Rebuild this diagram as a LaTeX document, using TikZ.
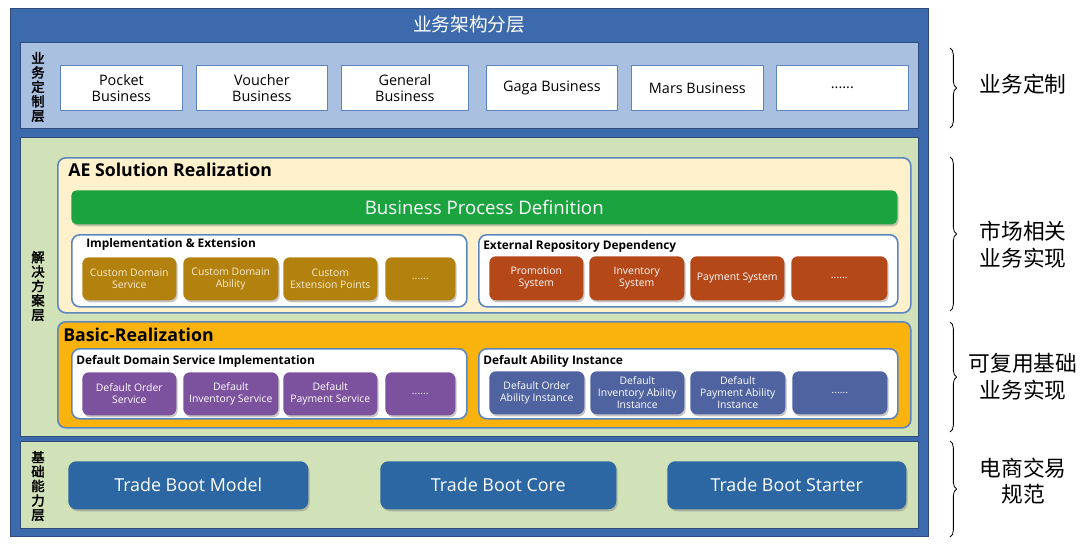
\documentclass[tikz,border=0pt]{standalone}
\usepackage{fontspec}
\setmainfont{Open Sans}
\newfontfamily\cjk{Noto Sans CJK SC}
\newfontfamily\cjkbold[FakeBold=2.5]{Noto Sans CJK SC}
\usetikzlibrary{shadows,decorations.pathreplacing}
\definecolor{outerblue}{HTML}{3D6AAD}
\definecolor{outerline}{HTML}{2E4C7A}
\definecolor{lay1}{HTML}{A9C0E1}
\definecolor{laygreen}{HTML}{D1E2B8}
\definecolor{cream}{HTML}{FEF1CB}
\definecolor{grpline}{HTML}{5B86BF}
\definecolor{bpgreen}{HTML}{1AA33F}
\definecolor{brownit}{HTML}{B3820E}
\definecolor{rustit}{HTML}{B54818}
\definecolor{orangeb}{HTML}{F9B30C}
\definecolor{purpleit}{HTML}{7C519D}
\definecolor{slateit}{HTML}{4E63A0}
\definecolor{tradeb}{HTML}{2C66A3}
\definecolor{itemtxt}{HTML}{F6EBD2}
\tikzset{
  x=0.75pt, y=-0.75pt,
  outerbox/.style={fill=outerblue, draw=outerline, line width=1pt},
  layerbox/.style={draw=outerline, line width=1pt},
  bizbox/.style={fill=white, draw=grpline, line width=0.6pt, font=\fontsize{10.8}{12}\selectfont, align=center},
  groupbox/.style={draw=grpline, line width=1.2pt, rounded corners=6pt},
  whitegrp/.style={groupbox, fill=white},
  item/.style={rounded corners=5pt, text=white, align=center, font=\fontsize{7.8}{8.8}\selectfont,
     drop shadow={shadow xshift=1pt, shadow yshift=-1.5pt, opacity=0.45}},
  vlabel/.style={font=\cjkbold\fontsize{10}{10.8}\selectfont, align=center, inner sep=0pt},
  grptitle/.style={font=\bfseries\fontsize{8.9}{10}\selectfont, anchor=west, inner sep=0pt},
  bigtitle/.style={font=\bfseries\fontsize{13.3}{15}\selectfont, anchor=west, inner sep=0pt},
  tradebox/.style={fill=tradeb, rounded corners=6pt, text=white, font=\fontsize{13.4}{15}\selectfont,
     drop shadow={shadow xshift=1pt, shadow yshift=-1.5pt, opacity=0.45}},
  righttxt/.style={font=\cjk\fontsize{16.3}{20}\selectfont, align=center},
  bracel/.style={decorate, decoration={brace, amplitude=5pt}, line width=0.6pt},
}
\newcommand\pbox[7]{\node[#6, anchor=north west, minimum width={(#4-#2)*0.75pt}, minimum height={(#5-#3)*0.75pt}, inner sep=0pt] (#1) at (#2,#3) {#7};}
\begin{document}
\begin{tikzpicture}
\useasboundingbox[fill=white] (0,0) rectangle (1080,544);
% outer
\pbox{outer}{10}{8}{928}{536}{outerbox}{}
\node[text=white, font=\cjk\fontsize{14}{16}\selectfont] (title) at (469,24) {业务架构分层};
% layer 1
\pbox{lay1}{20}{42}{918}{128}{layerbox, fill=lay1}{}
\node[vlabel] (v1) at (38,87) {业\\务\\定\\制\\层};
\pbox{b1}{60}{65}{182}{110}{bizbox}{Pocket\\Business}
\pbox{b2}{196}{65}{327}{110}{bizbox}{Voucher\\Business}
\pbox{b3}{341}{65}{468}{110}{bizbox}{General\\Business}
\pbox{b4}{486}{65}{617}{110}{bizbox}{Gaga Business}
\pbox{b5}{631}{65}{763}{110}{bizbox}{Mars Business}
\pbox{b6}{776}{65}{908}{110}{bizbox}{......}
% layer 2
\pbox{lay2}{20}{137}{918}{436}{layerbox, fill=laygreen}{}
\node[vlabel] (v2) at (38,286) {解\\决\\方\\案\\层};
\pbox{ae}{57}{157}{910}{312}{groupbox, fill=cream}{}
\node[bigtitle] (aet) at (68,170) {AE Solution Realization};
\pbox{bpd}{71}{190}{897}{224}{fill=bpgreen, rounded corners=4pt, text=white, font=\fontsize{14}{16}\selectfont, drop shadow={shadow xshift=1pt, shadow yshift=-1.5pt, opacity=0.45}}{Business Process Definition}
\pbox{ie}{71}{234}{466}{306}{whitegrp}{}
\node[grptitle] (iet) at (86,244) {Implementation \& Extension};
\pbox{c1}{82}{257}{176}{300}{item, fill=brownit, text=itemtxt}{Custom Domain\\Service}
\pbox{c2}{183}{257}{278}{300}{item, fill=brownit, text=itemtxt}{Custom Domain\\Ability}
\pbox{c3}{283}{257}{377}{300}{item, fill=brownit, text=itemtxt}{Custom\\Extension Points}
\pbox{c4}{385}{257}{455}{300}{item, fill=brownit, text=itemtxt}{......}
\pbox{er}{478}{234}{897}{306}{whitegrp}{}
\node[grptitle] (ert) at (483,246) {External Repository Dependency};
\pbox{e1}{489}{256}{583}{300}{item, fill=rustit}{Promotion\\System}
\pbox{e2}{589}{256}{684}{300}{item, fill=rustit}{Inventory\\System}
\pbox{e3}{690}{256}{784}{300}{item, fill=rustit}{Payment System}
\pbox{e4}{791}{256}{887}{300}{item, fill=rustit}{......}
% basic realization
\pbox{br}{57}{321}{910}{427}{groupbox, fill=orangeb}{}
\node[bigtitle] (brt) at (63,335) {Basic-Realization};
\pbox{dd}{71}{348}{466}{418}{whitegrp}{}
\node[grptitle] (ddt) at (76,361) {Default Domain Service Implementation};
\pbox{p1}{82}{372}{176}{415}{item, fill=purpleit}{Default Order\\Service}
\pbox{p2}{183}{372}{278}{415}{item, fill=purpleit}{Default\\Inventory Service}
\pbox{p3}{283}{372}{377}{415}{item, fill=purpleit}{Default\\Payment Service}
\pbox{p4}{385}{372}{455}{415}{item, fill=purpleit}{......}
\pbox{da}{478}{348}{897}{418}{whitegrp}{}
\node[grptitle] (dat) at (483,361) {Default Ability Instance};
\pbox{s1}{489}{371}{584}{414}{item, fill=slateit}{Default Order\\Ability Instance}
\pbox{s2}{590}{371}{684}{414}{item, fill=slateit}{Default\\Inventory Ability\\Instance}
\pbox{s3}{690}{371}{785}{414}{item, fill=slateit}{Default\\Payment Ability\\Instance}
\pbox{s4}{792}{371}{887}{414}{item, fill=slateit}{......}
% layer 3
\pbox{lay3}{20}{441}{918}{528}{layerbox, fill=laygreen}{}
\node[vlabel] (v3) at (38,486) {基\\础\\能\\力\\层};
\pbox{t1}{68}{461}{308}{509}{tradebox}{Trade Boot Model}
\pbox{t2}{380}{461}{616}{509}{tradebox}{Trade Boot Core}
\pbox{t3}{667}{461}{906}{509}{tradebox}{Trade Boot Starter}
% right braces
\coordinate (r1a) at (950,48);  \coordinate (r1b) at (950,128);
\coordinate (r2a) at (950,157); \coordinate (r2b) at (950,311);
\coordinate (r3a) at (950,322); \coordinate (r3b) at (950,432);
\coordinate (r4a) at (950,441); \coordinate (r4b) at (950,537);
\draw[bracel] (r1a) -- (r1b);
\draw[bracel] (r2a) -- (r2b);
\draw[bracel] (r3a) -- (r3b);
\draw[bracel] (r4a) -- (r4b);
\node[righttxt] (rt1) at (1023,84) {业务定制};
\node[righttxt] (rt2) at (1023,245) {市场相关\\业务实现};
\node[righttxt] (rt3) at (1023,377) {可复用基础\\业务实现};
\node[righttxt] (rt4) at (1023,481) {电商交易\\规范};
\end{tikzpicture}
\end{document}
